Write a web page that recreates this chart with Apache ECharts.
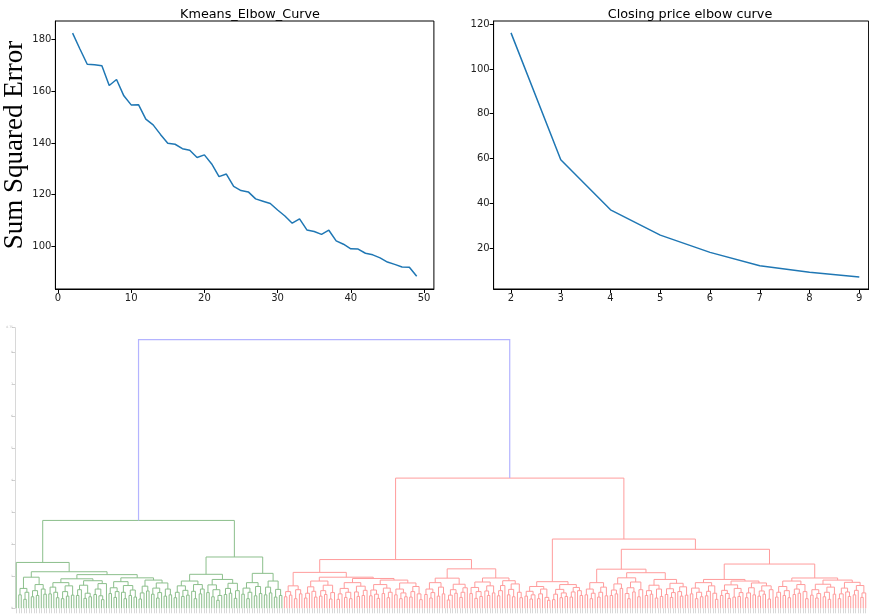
<!DOCTYPE html>
<html>
<head>
<meta charset="utf-8">
<script src="https://cdn.jsdelivr.net/npm/echarts@6/dist/echarts.min.js"></script>
<style>
html,body{margin:0;padding:0;background:#fff;}
#chart{width:869px;height:614px;}
</style>
</head>
<body>
<div id="chart"></div>
<script>
// top left: kmeans elbow curve
var kmeansK = [2,3,4,5,6,7,8,9,10,11,12,13,14,15,16,17,18,19,20,21,22,23,24,25,26,27,28,29,30,31,32,33,34,35,36,37,38,39,40,41,42,43,44,45,46,47,48,49];
var kmeansSSE = [182.4,176.3,170.4,170.2,169.8,162.2,164.5,158.2,154.7,154.8,149.2,147.0,143.3,139.9,139.5,137.8,137.2,134.4,135.4,131.9,127.0,128.0,123.2,121.6,121.1,118.4,117.5,116.6,114.1,111.8,109.0,110.7,106.4,105.8,104.7,106.3,102.2,100.9,99.1,99.0,97.4,96.8,95.6,94.0,93.1,92.1,92.0,88.5];
var kmeansXTicks = [0,10,20,30,40,50];
var kmeansYTicks = [100,120,140,160,180];

// top right: closing price elbow curve (cut off at the right edge)
var closingK = [2,3,4,5,6,7,8,9];
var closingSSE = [116.1,59.5,37.1,25.8,18.1,12.1,9.2,7.1];
var closingXTicks = [2,3,4,5,6,7,8,9];
var closingYTicks = [20,40,60,80,100,120];

// dendrogram: node = [mergeHeight, left, right], leaf = 0
// green cluster bushes
var glA = [0.97,[0.62,[0.42,0,0],[0.5,[0.28,0,0],0]],[0.74,[0.55,[0.36,0,0],[0.4,0,0]],[0.6,0,[0.44,0,0]]]];
var glB1 = [0.92,
  [0.8,[0.66,[0.45,0,0],[0.5,0,[0.33,0,0]]],[0.7,[0.52,[0.3,0,0],[0.38,0,0]],[0.41,0,0]]],
  [0.86,[0.72,[0.58,[0.4,0,0],0],[0.47,[0.31,0,0],[0.36,0,0]]],[0.77,[0.6,[0.43,0,0],[0.39,0,[0.27,0,0]]],0]]];
var glB2 = [0.95,
  [0.83,[0.64,[0.46,0,0],[0.52,[0.34,0,0],0]],[0.71,[0.5,0,[0.3,0,0]],[0.57,[0.4,0,0],[0.35,0,0]]]],
  [0.88,[0.69,[0.48,[0.29,0,0],0],[0.54,0,0]],[0.79,[0.63,[0.44,0,0],[0.49,[0.32,0,0],0]],[0.6,[0.38,0,0],[0.42,0,0]]]]];
var grA = [1.06,
  [0.85,[0.7,[0.5,[0.33,0,0],0],[0.56,[0.37,0,0],[0.41,0,0]]],[0.74,[0.53,0,[0.3,0,0]],[0.6,[0.45,0,0],0]]],
  [0.9,[0.73,[0.49,0,0],[0.58,[0.36,0,0],[0.4,[0.25,0,0],0]]],[0.78,[0.62,[0.43,0,0],[0.47,0,0]],[0.55,[0.31,0,0],0]]]];
var grB = [1.09,
  [0.8,[0.63,[0.44,0,0],[0.5,[0.3,0,0],0]],[0.68,[0.39,0,0],[0.46,0,0]]],
  [0.85,[0.66,[0.42,0,0],[0.48,0,0]],[0.59,[0.35,0,0],[0.4,0,0]]]];

// red cluster bushes
var rl1A = [0.7,[0.52,[0.36,0,0],[0.41,0,0]],[0.58,[0.3,0,0],[0.45,0,0]]];
var rl1B1 = [0.85,[0.67,[0.47,[0.32,0,0],0],[0.53,0,[0.35,0,0]]],[0.72,[0.55,[0.38,0,0],[0.43,0,0]],[0.49,[0.29,0,0],0]]];
var rl1B2 = [0.93,
  [0.8,[0.62,[0.45,[0.28,0,0],0],[0.5,[0.34,0,0],[0.3,0,0]]],[0.69,[0.51,0,[0.37,0,0]],[0.56,[0.4,0,0],0]]],
  [0.88,[0.74,[0.57,[0.39,0,0],[0.44,0,[0.31,0,0]]],[0.63,[0.46,0,0],[0.5,[0.33,0,0],0]]],
        [0.79,[0.6,[0.42,0,0],[0.48,[0.3,0,0],[0.36,0,0]]],[0.68,[0.52,[0.35,0,0],0],[0.45,0,[0.27,0,0]]]]]];
var rl2A = [0.94,
  [0.8,[0.6,[0.43,0,0],[0.49,[0.32,0,0],0]],[0.66,[0.38,0,0],[0.45,0,0]]],
  [0.75,[0.58,[0.41,[0.26,0,0],0],[0.47,0,0]],[0.64,[0.5,[0.34,0,0],0],0]]];
var rl2B = [0.945,
  [0.82,[0.65,[0.46,0,0],[0.52,[0.31,0,0],[0.37,0,0]]],[0.7,[0.54,0,[0.4,0,0]],[0.48,0,0]]],
  [0.86,[0.71,[0.55,[0.39,0,0],0],0],[0.76,[0.59,[0.42,0,0],[0.36,0,0]],[0.5,0,[0.33,0,0]]]]];
var rr1 = [0.83,
  [0.68,[0.53,[0.38,0,0],[0.42,[0.29,0,0],0]],[0.6,[0.45,[0.3,0,0],0],[0.34,0,[0.25,0,0]]]],
  [0.74,[0.59,[0.44,[0.27,0,0],0],[0.48,[0.33,0,0],[0.37,0,0]]],[0.65,[0.51,[0.35,0,0],0],[0.55,0,[0.4,0,0]]]]];
var rr2A1 = [0.8,[0.6,[0.42,0,0],[0.47,[0.3,0,0],0]],[0.66,[0.5,[0.35,0,0],0],[0.39,0,0]]];
var rr2A2a = [0.95,[0.76,[0.57,[0.4,0,0],[0.45,0,0]],[0.62,0,0]],[0.82,[0.64,[0.46,0,[0.3,0,0]],[0.51,0,0]],[0.58,[0.36,0,0],0]]];
var rr2A2b = [0.9,
  [0.72,[0.55,[0.4,0,0],[0.44,0,0]],[0.6,[0.32,0,0],[0.37,0,0]]],
  [0.78,[0.61,[0.43,0,0],[0.49,[0.34,0,0],0]],[0.67,[0.52,0,[0.38,0,0]],[0.41,0,0]]]];
var rr2B1a = [0.8,[0.63,[0.45,0,0],[0.5,[0.3,0,0],[0.36,0,0]]],[0.7,[0.53,[0.39,0,0],0],[0.47,0,[0.28,0,0]]]];
var rr2B1b = [0.85,
  [0.73,[0.56,[0.4,0,0],[0.46,0,[0.31,0,0]]],[0.62,[0.35,0,0],[0.49,[0.37,0,0],0]]],
  [0.79,[0.64,[0.48,[0.33,0,0],0],[0.42,0,0]],[0.7,[0.54,[0.38,0,0],[0.44,0,0]],[0.58,[0.29,0,0],0]]]];
var rr2B2a = [0.85,[0.68,[0.5,[0.35,0,0],0],[0.55,[0.4,0,0],[0.33,0,0]]],[0.74,[0.6,[0.43,0,0],[0.47,0,0]],[0.52,0,[0.3,0,0]]]];
var rr2B2b = [0.88,
  [0.75,[0.58,[0.41,0,0],[0.46,[0.32,0,0],0]],[0.66,[0.5,[0.36,0,0],[0.28,0,0]],[0.44,0,0]]],
  [0.81,[0.63,[0.45,[0.3,0,0],0],[0.51,0,[0.37,0,0]]],[0.71,[0.56,[0.42,0,0],0],[0.48,[0.34,0,0],0]]]];

// upper merges
var greenTree = [2.74, [1.43, 0, [1.14, glA, [1.05, glB1, glB2]]], [1.60, grA, grB]];
var redTree = [4.06,
  [1.52, [1.12, rl1A, [0.97, rl1B1, rl1B2]], [1.23, rl2A, rl2B]],
  [2.16, rr1, [1.84, [1.22, rr2A1, [1.11, rr2A2a, rr2A2b]], [1.38, [0.9, rr2B1a, rr2B1b], [0.945, rr2B2a, rr2B2b]]]]];
var rootHeight = 8.38;

// scipy style layout: leaves at 5, 15, 25 ...
function layoutTree(node, state, out) {
    if (!Array.isArray(node)) {
        var x = 5 + 10 * state.leaves.length;
        state.leaves.push(x);
        return {x: x, y: 0};
    }
    var l = layoutTree(node[1], state, out);
    var r = layoutTree(node[2], state, out);
    out.push({coords: [[l.x, l.y], [l.x, node[0]], [r.x, node[0]], [r.x, r.y]]});
    return {x: (l.x + r.x) / 2, y: node[0]};
}
var state = {leaves: []};
var greenLinks = [], redLinks = [];
var gTop = layoutTree(greenTree, state, greenLinks);
var rTop = layoutTree(redTree, state, redLinks);
var blueLinks = [{coords: [[gTop.x, gTop.y], [gTop.x, rootHeight], [rTop.x, rootHeight], [rTop.x, rTop.y]]}];
var leafIds = state.leaves.map(function (x, i) { return String(i); });

var chart = echarts.init(document.getElementById('chart'));
var font = 'DejaVu Sans';
function mplX(grid, min, max, ticks) {
    return {
        type: 'value', gridIndex: grid, min: min, max: max, position: 'bottom',
        axisLine: {show: true, onZero: false, lineStyle: {color: '#000', width: 1}},
        axisTick: {show: true, length: 4, lineStyle: {color: '#000'}, customValues: ticks},
        axisLabel: {fontFamily: font, fontSize: 10, color: '#222', margin: 4, customValues: ticks},
        splitLine: {show: false}
    };
}
function mplY(grid, min, max, ticks) {
    return {
        type: 'value', gridIndex: grid, min: min, max: max,
        axisLine: {show: true, onZero: false, lineStyle: {color: '#000', width: 1}},
        axisTick: {show: true, length: 4, lineStyle: {color: '#000'}, customValues: ticks},
        axisLabel: {fontFamily: font, fontSize: 10, color: '#222', margin: 4, customValues: ticks},
        splitLine: {show: false}
    };
}
var yLeft = mplY(0, 83.6, 187.1, kmeansYTicks);
yLeft.name = 'Sum Squared Error';
yLeft.nameLocation = 'middle';
yLeft.nameRotate = 90;
yLeft.nameGap = 22;
yLeft.nameTextStyle = {fontFamily: 'Liberation Serif', fontSize: 27, color: '#000', padding: [0, 0, 0, 20]};

var option = {
    animation: false,
    backgroundColor: '#fff',
    title: [
        {text: 'Kmeans_Elbow_Curve', left: 245, top: 3, textAlign: 'center',
         textStyle: {fontFamily: font, fontSize: 12.8, fontWeight: 'normal', color: '#000'}},
        {text: 'Closing price elbow curve', left: 685, top: 3, textAlign: 'center',
         textStyle: {fontFamily: font, fontSize: 12.8, fontWeight: 'normal', color: '#000'}}
    ],
    grid: [
        {left: 55.4, top: 21, width: 378.5, height: 268, show: true, borderColor: '#000', borderWidth: 1},
        {left: 493.6, top: 21, width: 375, height: 268, show: true, borderColor: '#000', borderWidth: 1},
        {left: 15, top: 327.7, width: 852, height: 280.6}
    ],
    xAxis: [
        mplX(0, -0.35, 51.35, kmeansXTicks),
        mplX(1, 1.65, 9.187, closingXTicks),
        {type: 'value', gridIndex: 2, min: 0, max: 3400, position: 'bottom', show: false},
        {type: 'category', gridIndex: 2, data: leafIds, position: 'bottom',
         axisLine: {show: false},
         axisTick: {show: true, alignWithLabel: true, interval: 0, length: 5, lineStyle: {color: '#d8d8d8'}},
         axisLabel: {show: false}, splitLine: {show: false}}
    ],
    yAxis: [
        yLeft,
        mplY(1, 1.76, 121.4, closingYTicks),
        {type: 'value', gridIndex: 2, min: 0, max: 8.75, interval: 1,
         axisLine: {show: true, lineStyle: {color: '#d8d8d8'}},
         axisTick: {show: true, length: 3, lineStyle: {color: '#d0d0d0'}},
         axisLabel: {fontFamily: font, fontSize: 3, color: '#bbb', margin: 2},
         splitLine: {show: false}}
    ],
    series: [
        {type: 'line', xAxisIndex: 0, yAxisIndex: 0, showSymbol: false,
         data: kmeansK.map(function (k, i) { return [k, kmeansSSE[i]]; }),
         lineStyle: {color: '#1f77b4', width: 1.5}},
        {type: 'line', xAxisIndex: 1, yAxisIndex: 1, showSymbol: false,
         data: closingK.map(function (k, i) { return [k, closingSSE[i]]; }),
         lineStyle: {color: '#1f77b4', width: 1.5}},
        {type: 'lines', coordinateSystem: 'cartesian2d', xAxisIndex: 2, yAxisIndex: 2, polyline: true,
         data: greenLinks, lineStyle: {color: '#8cbf8c', width: 1, opacity: 1}},
        {type: 'lines', coordinateSystem: 'cartesian2d', xAxisIndex: 2, yAxisIndex: 2, polyline: true,
         data: redLinks, lineStyle: {color: '#ff9c9c', width: 1, opacity: 1}},
        {type: 'lines', coordinateSystem: 'cartesian2d', xAxisIndex: 2, yAxisIndex: 2, polyline: true,
         data: blueLinks, lineStyle: {color: '#b4b4ff', width: 1.2, opacity: 1}}
    ]
};
chart.setOption(option);
</script>
</body>
</html>
